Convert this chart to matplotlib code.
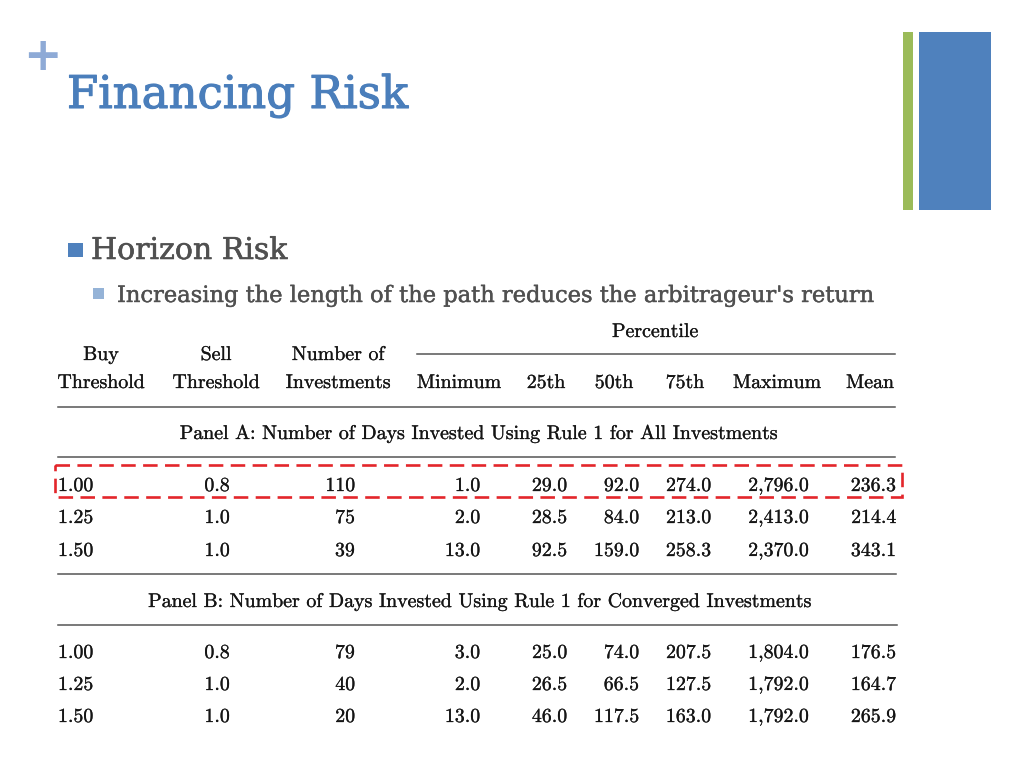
import matplotlib
matplotlib.use("Agg")
import matplotlib.pyplot as plt
from matplotlib.patches import Rectangle
import matplotlib.patheffects as pe

plt.rcParams["mathtext.fontset"] = "cm"

# ---------------- data ----------------
title = "Financing Risk"
bullet1 = "Horizon Risk"
bullet2 = "Increasing the length of the path reduces the arbitrageur's return"

header_top = ["Buy", "Sell", "Number of"]
header_bottom = ["Threshold", "Threshold", "Investments", "Minimum", "25th", "50th", "75th", "Maximum", "Mean"]
group_label = "Percentile"
panel_a_title = "Panel A: Number of Days Invested Using Rule 1 for All Investments"
panel_b_title = "Panel B: Number of Days Invested Using Rule 1 for Converged Investments"

buy_thr = ["1.00", "1.25", "1.50"]
sell_thr = ["0.8", "1.0", "1.0"]

a_n = [110, 75, 39]
a_min = [1.0, 2.0, 13.0]
a_p25 = [29.0, 28.5, 92.5]
a_p50 = [92.0, 84.0, 159.0]
a_p75 = [274.0, 213.0, 258.3]
a_max = [2796.0, 2413.0, 2370.0]
a_mean = [236.3, 214.4, 343.1]

b_n = [79, 40, 20]
b_min = [3.0, 2.0, 13.0]
b_p25 = [25.0, 26.5, 46.0]
b_p50 = [74.0, 66.5, 117.5]
b_p75 = [207.5, 127.5, 163.0]
b_max = [1804.0, 1792.0, 1792.0]
b_mean = [176.5, 164.7, 265.9]

# ---------------- figure ----------------
W, H = 1024, 768
fig = plt.figure(figsize=(W / 100, H / 100), dpi=100)
ax = fig.add_axes([0, 0, 1, 1])
ax.set_xlim(0, W)
ax.set_ylim(H, 0)
ax.axis("off")
fig.patch.set_facecolor("white")
renderer = fig.canvas.get_renderer()


def fit_text(x, y, s, target_w, size, **kw):
    t = ax.text(x, y, s, fontsize=size, **kw)
    for _ in range(2):
        w = t.get_window_extent(renderer=renderer).width
        size = size * target_w / w
        t.set_fontsize(size)
    return t


slide_serif = ["DejaVu Serif"]
title_col = "#4A7EBB"
text_col = "#505050"

# decorative bars (top right)
ax.add_patch(Rectangle((903, 32), 10, 178, color="#9BBB59", lw=0))
ax.add_patch(Rectangle((919, 32), 72, 178, color="#4F81BD", lw=0))

# plus sign + title
ax.text(42, 58, "+", fontsize=33, fontweight="bold", color="#8EAAD6",
        ha="center", va="center", family="DejaVu Sans")
fit_text(67, 108, title, 341, 33, family=slide_serif, color=title_col, va="baseline",
         path_effects=[pe.withStroke(linewidth=0.8, foreground=title_col)])

# bullets
ax.add_patch(Rectangle((68, 243), 15, 14, color="#4F81BD", lw=0))
fit_text(91, 259, bullet1, 197, 21, family=slide_serif, color=text_col, va="baseline",
         path_effects=[pe.withStroke(linewidth=0.4, foreground=text_col)])
ax.add_patch(Rectangle((93, 288), 11, 11, color="#95B3D7", lw=0))
fit_text(117, 302, bullet2, 759, 16, family=slide_serif, color=text_col, va="baseline",
         path_effects=[pe.withStroke(linewidth=0.3, foreground=text_col)])

# ---------------- table ----------------
tcol = "#151515"
stroke = [pe.withStroke(linewidth=0.2, foreground=tcol)]
tf = dict(family="cmr10", fontsize=14.3, color=tcol, va="baseline", path_effects=stroke)
mf = dict(fontsize=14.3, color=tcol, va="baseline", path_effects=stroke)
line_kw = dict(color="#555555", lw=1.1)

ax.text(655, 337, group_label, ha="center", **tf)
ax.plot([417, 895], [354, 354], **line_kw)

top_x = [101, 216, 338]
for x, s in zip(top_x, header_top):
    ax.text(x, 360, s, ha="center", **tf)
bot_x = [101, 216, 338, 459, 546, 614, 685, 777, 870]
for x, s in zip(bot_x, header_bottom):
    ax.text(x, 388, s, ha="center", **tf)

ax.plot([58, 895], [407, 407], **line_kw)
ax.text(478, 439, panel_a_title, ha="center", **tf)
ax.plot([58, 895], [457, 457], **line_kw)


def fmt(v):
    return f"{v:,.1f}"


def put_num(x, y, s):
    if "," in s:
        ax.text(x, y, "$" + s.replace(",", "{,}") + "$", ha="right", **mf)
    else:
        ax.text(x, y, s, ha="right", **tf)


def draw_rows(baselines, n, mn, p25, p50, p75, mx, mean):
    for i, yb in enumerate(baselines):
        ax.text(58, yb, buy_thr[i], ha="left", **tf)
        ax.text(217, yb, sell_thr[i], ha="center", **tf)
        put_num(355, yb, str(n[i]))
        put_num(480, yb, fmt(mn[i]))
        put_num(567, yb, fmt(p25[i]))
        put_num(639, yb, fmt(p50[i]))
        put_num(711, yb, fmt(p75[i]))
        put_num(810, yb, fmt(mx[i]))
        put_num(896, yb, fmt(mean[i]))


draw_rows([491, 523, 556], a_n, a_min, a_p25, a_p50, a_p75, a_max, a_mean)
ax.plot([58, 896], [574, 574], **line_kw)
ax.text(479, 607, panel_b_title, ha="center", **tf)
ax.plot([58, 897], [625, 625], **line_kw)
draw_rows([658, 690, 722], b_n, b_min, b_p25, b_p50, b_p75, b_max, b_mean)

# red dashed highlight around first row of panel A
ax.add_patch(Rectangle((55, 465), 847, 32, fill=False, edgecolor="#E3262B",
                       lw=1.9, linestyle=(0, (5.5, 2.8))))

fig.savefig("out.png", dpi=100, facecolor="white")
